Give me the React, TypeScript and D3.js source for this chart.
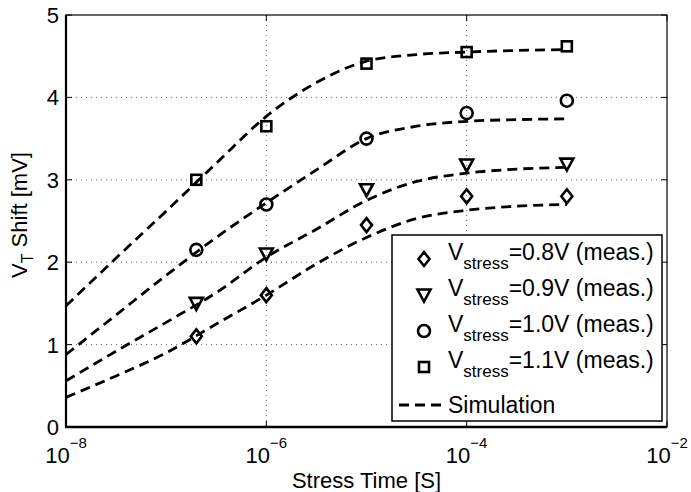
import React from "react";
import * as d3 from "d3";

// measured points (stress times in seconds)
const measTimes = [2e-7, 1e-6, 1e-5, 1e-4, 1e-3];
const meas08 = [1.1, 1.6, 2.45, 2.8, 2.8];
const meas09 = [1.5, 2.1, 2.88, 3.18, 3.19];
const meas10 = [2.15, 2.7, 3.5, 3.81, 3.96];
const meas11 = [3.0, 3.65, 4.41, 4.55, 4.62];

// simulation curves, log10(time) exponents
const simExp = [-8, -7.5, -7, -6.5, -6, -5.5, -5, -4.5, -4, -3.5, -3];
const sim08 = [0.36, 0.62, 0.9, 1.25, 1.6, 1.98, 2.3, 2.53, 2.63, 2.68, 2.7];
const sim09 = [0.56, 0.92, 1.27, 1.63, 2.06, 2.4, 2.75, 2.98, 3.08, 3.13, 3.15];
const sim10 = [0.88, 1.36, 1.84, 2.3, 2.72, 3.12, 3.5, 3.65, 3.71, 3.73, 3.74];
const sim11 = [1.47, 2.05, 2.62, 3.2, 3.77, 4.18, 4.44, 4.52, 4.55, 4.57, 4.58];

const xTickExp = [-8, -6, -4, -2];
const yTicks = [0, 1, 2, 3, 4, 5];
const legendLabels = ["=0.8V (meas.)", "=0.9V (meas.)", "=1.0V (meas.)", "=1.1V (meas.)"];
const markerKinds = ["diamond", "triangle", "circle", "square"];

const FONT = "'Liberation Sans', Arial, Helvetica, sans-serif";

function Marker({ kind, x, y }: { kind: string; x: number; y: number }) {
  const common = { fill: "none", stroke: "#000", strokeWidth: 2.6 };
  if (kind === "diamond") {
    return <path d={`M${x},${y - 7}L${x + 5.5},${y}L${x},${y + 7}L${x - 5.5},${y}Z`} {...common} />;
  }
  if (kind === "triangle") {
    return <path d={`M${x - 6.5},${y - 5.5}L${x + 6.5},${y - 5.5}L${x},${y + 6.5}Z`} {...common} />;
  }
  if (kind === "circle") {
    return <circle cx={x} cy={y} r={6} {...common} />;
  }
  return <rect x={x - 5} y={y - 5} width={10} height={10} {...common} />;
}

export default function App() {
  const W = 691, H = 492;
  const left = 66, right = 667, top = 15, bottom = 427;
  const x = d3.scaleLog().domain([1e-8, 1e-2]).range([left, right]);
  const y = d3.scaleLinear().domain([0, 5]).range([bottom, top]);

  const line = d3
    .line<[number, number]>()
    .x((d) => x(Math.pow(10, d[0])))
    .y((d) => y(d[1]))
    .curve(d3.curveMonotoneX);

  const sims = [sim08, sim09, sim10, sim11];
  const meas = [meas08, meas09, meas10, meas11];
  const tickLen = 6;

  const legX = 392, legY = 235, legW = 270, legH = 186;
  const rowY = [259, 295, 331, 367, 405];

  return (
    <svg width={W} height={H} style={{ position: "fixed", left: 0, top: 0, background: "#fff" }} fontFamily={FONT}>
      <rect x={0} y={0} width={W} height={H} fill="#fff" />
      {/* grid */}
      {xTickExp.slice(1, -1).map((e) => (
        <line key={"gx" + e} x1={x(Math.pow(10, e))} x2={x(Math.pow(10, e))} y1={top} y2={bottom} stroke="#666" strokeWidth={1} strokeDasharray="1,4" />
      ))}
      {yTicks.slice(1, -1).map((v) => (
        <line key={"gy" + v} x1={left} x2={right} y1={y(v)} y2={y(v)} stroke="#666" strokeWidth={1} strokeDasharray="1,4" />
      ))}
      {/* ticks inside */}
      {xTickExp.map((e) => (
        <g key={"tx" + e}>
          <line x1={x(Math.pow(10, e))} x2={x(Math.pow(10, e))} y1={bottom} y2={bottom - tickLen} stroke="#000" />
          <line x1={x(Math.pow(10, e))} x2={x(Math.pow(10, e))} y1={top} y2={top + tickLen} stroke="#000" />
        </g>
      ))}
      {yTicks.map((v) => (
        <g key={"ty" + v}>
          <line x1={left} x2={left + tickLen} y1={y(v)} y2={y(v)} stroke="#000" />
          <line x1={right} x2={right - tickLen} y1={y(v)} y2={y(v)} stroke="#000" />
        </g>
      ))}
      {/* simulation lines */}
      {sims.map((s, i) => (
        <path
          key={"sim" + i}
          d={line(simExp.map((e, j) => [e, s[j]] as [number, number])) || ""}
          fill="none"
          stroke="#000"
          strokeWidth={2.8}
          strokeDasharray="10,6"
        />
      ))}
      {/* measured markers */}
      {meas.map((m, i) =>
        m.map((v, j) => <Marker key={`m${i}-${j}`} kind={markerKinds[i]} x={x(measTimes[j])} y={y(v)} />)
      )}
      {/* frame */}
      <rect x={left} y={top} width={right - left} height={bottom - top} fill="none" stroke="#000" strokeWidth={1.2} />
      <line x1={left - 1} x2={right} y1={bottom} y2={bottom} stroke="#000" strokeWidth={2.6} />
      <line x1={left} x2={left} y1={top} y2={bottom} stroke="#000" strokeWidth={2.2} />
      {/* y tick labels */}
      {yTicks.map((v) => (
        <text key={"yl" + v} x={left - 7} y={y(v) + 8} textAnchor="end" fontSize={22} fill="#000">
          {v}
        </text>
      ))}
      {/* x tick labels */}
      {xTickExp.map((e) => (
        <text key={"xl" + e} x={x(Math.pow(10, e))} y={463} textAnchor="middle" fontSize={22} fill="#000">
          10
          <tspan fontSize={15} dy={-15}>
            {"\u2212" + Math.abs(e)}
          </tspan>
        </text>
      ))}
      {/* axis titles */}
      <text x={(left + right) / 2} y={488} textAnchor="middle" fontSize={22} fill="#000">
        Stress Time [S]
      </text>
      <text transform={`translate(27,${215}) rotate(-90)`} textAnchor="middle" fontSize={22} fill="#000">
        V<tspan fontSize={16} dy={6}>T</tspan>
        <tspan dy={-6}> Shift [mV]</tspan>
      </text>
      {/* legend */}
      <rect x={legX} y={legY} width={legW} height={legH} fill="#fff" stroke="#000" strokeWidth={1.5} />
      {legendLabels.map((lab, i) => (
        <g key={"lg" + i}>
          <Marker kind={markerKinds[i]} x={424} y={rowY[i]} />
          <text x={448} y={rowY[i] + 1} fontSize={23} fill="#000">
            V<tspan fontSize={17} dy={9}>stress</tspan>
            <tspan dy={-9}>{lab}</tspan>
          </text>
        </g>
      ))}
      <line x1={399} x2={446} y1={rowY[4]} y2={rowY[4]} stroke="#000" strokeWidth={2.8} strokeDasharray="10,6" />
      <text x={448} y={rowY[4] + 8} fontSize={23} fill="#000">
        Simulation
      </text>
    </svg>
  );
}
